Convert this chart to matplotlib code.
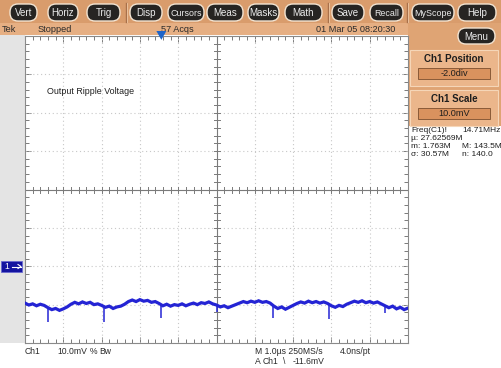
import numpy as np
import matplotlib
matplotlib.use("Agg")
import matplotlib.pyplot as plt
from matplotlib.patches import Rectangle, FancyBboxPatch, Polygon

plt.rcParams['font.family'] = ['Liberation Sans', 'DejaVu Sans']

# ---- acquisition data (Ch1, mV relative to ground, time in microseconds) ----
t_step = 0.1
trace_mv = [
    -9.6, -10.1, -9.8, -10.3, -9.9, -10.2, -10.8, -11.3, -11.0, -11.5,
    -11.1, -10.6, -9.9, -9.4, -9.8, -9.3, -9.7, -9.4, -10.0, -9.8,
    -10.2, -10.7, -10.4, -11.0, -10.6, -10.4, -9.9, -9.2, -8.8, -9.2,
    -8.7, -9.1, -8.9, -9.4, -9.2, -9.7, -10.3, -9.9, -10.4, -10.0,
    -10.2, -9.8, -10.3, -9.9, -9.6, -10.0, -9.5, -9.7, -9.3, -9.8,
    -10.1, -10.6, -10.3, -10.8, -10.4, -10.0, -9.6, -9.2, -9.5, -9.1,
    -9.4, -9.0, -9.4, -9.2, -9.6, -10.4, -11.0, -10.6, -11.2, -10.7,
    -10.2, -9.7, -9.3, -9.6, -9.1, -9.5, -9.2, -9.6, -9.3, -9.7,
    -10.3, -10.7, -10.2, -10.5, -9.9, -9.5, -9.1, -9.4, -9.0, -9.5,
    -9.2, -9.6, -9.3, -9.8, -10.3, -10.8, -10.4, -11.1, -10.7, -11.3,
    -10.9,
]
spike_t = [0.59, 2.05, 3.56, 5.01, 6.47, 7.95, 9.40]
spike_mv = [-14.4, -14.4, -13.5, -11.8, -13.5, -13.7, -12.2]
trigger_t = 3.56

# ---- display settings ----
volts_per_div = 10.0      # mV/div
position_div = -2.0       # ground position in divisions
n_xdiv, n_ydiv = 10, 8

button_labels = ["Vert", "Horiz", "Trig", "Disp", "Cursors", "Meas",
                 "Masks", "Math", "Save", "Recall", "MyScope", "Help"]
button_spans = [(10, 37), (48, 78), (87, 120), (130, 162), (168, 204), (207, 243),
                (248, 279), (285, 322), (332, 364), (370, 403), (412, 454), (458, 496)]
separators = [126, 328, 407]

W, H = 501, 368
fig = plt.figure(figsize=(W / 100, H / 100), dpi=100)
fig.patch.set_facecolor("white")

# background layer in pixel coordinates
bg = fig.add_axes([0, 0, 1, 1], zorder=0)
bg.set_xlim(0, W)
bg.set_ylim(H, 0)
bg.axis("off")

HEADER = "#d99c6c"
STATUS = "#e6af83"
PANEL = "#dfa474"
BOX = "#ebb68b"
FIELD = "#d9925e"

bg.add_patch(Rectangle((0, 0), W, 23, color=HEADER, lw=0))
bg.add_patch(Rectangle((0, 23), W, 12, color=STATUS, lw=0))
bg.add_patch(Rectangle((408, 23), W - 408, 103, color=PANEL, lw=0))
bg.add_patch(Rectangle((0, 35), 25, 308, color="#e4e4e4", lw=0))

def button(x0, x1, y0, y1, label, size=6.9):
    bg.add_patch(FancyBboxPatch((x0, y0), x1 - x0, y1 - y0,
                                boxstyle="round,pad=0,rounding_size=8",
                                fc="#262422", ec="#f3e4d2", lw=1.0))
    bg.text((x0 + x1) / 2, (y0 + y1) / 2 + 0.5, label, color="#ececec",
            fontsize=size, ha="center", va="center")

for lab, (x0, x1) in zip(button_labels, button_spans):
    button(x0, x1, 4, 21, lab, size=6.4 if len(lab) > 5 else 7.0)
for sx in separators:
    bg.plot([sx, sx], [3, 22], color="#a8704a", lw=1.0)
    bg.plot([sx + 1, sx + 1], [3, 22], color="#f0c8a4", lw=0.6)

# status line
for x, s in [(2, "Tek"), (38, "Stopped"), (161, "57 Acqs"), (316, "01 Mar 05 08:20:30")]:
    bg.text(x, 29.5, s, fontsize=6.6, color="#2a2a2a", va="center", ha="left")

button(458, 495, 28, 44, "Menu")

# channel setting boxes
for y0, title, value in [(50, "Ch1 Position", "-2.0div"), (90, "Ch1 Scale", "10.0mV")]:
    bg.add_patch(Rectangle((410, y0), 88, 36, fc=BOX, ec="#f5d6b8", lw=0.8))
    bg.text(454, y0 + 9, title, fontsize=7.0, fontweight="bold", color="#1e1e1e",
            ha="center", va="center")
    bg.add_patch(Rectangle((418, y0 + 18), 72, 11, fc=FIELD, ec="#8a5a38", lw=0.7))
    bg.text(454, y0 + 24, value, fontsize=6.6, color="#1e1e1e", ha="center",
            va="center")

# measurement readout
meas = [(411, 131, "Freq(C1)!"), (462, 131, "14.71MHz"),
        (411, 139, "\u00b5: 27.62569M"),
        (411, 147, "m: 1.763M"), (462, 147, "M: 143.5M"),
        (411, 155, "\u03c3: 30.57M"), (462, 155, "n: 140.0")]
for x, y, s in meas:
    bg.text(x, y, s, fontsize=6.0, color="#1e1e1e", ha="left", va="center")

# ground reference marker
bg.add_patch(Rectangle((1, 261), 21, 11, fc="#1414a0", ec="#6a6ad0", lw=0.6))
bg.text(7, 266.5, "1", fontsize=6.2, color="white", ha="center", va="center")
bg.plot([12, 21], [266.5, 266.5], color="white", lw=0.8)
bg.plot([18, 21, 18], [264.5, 266.5, 268.5], color="white", lw=0.8)

# bottom status text
bot = [(25, 352, "Ch1"), (57, 352, "10.0mV"), (90, 352, "%"), (99, 352, "Bw"),
       (255, 352, "M 1.0\u00b5s 250MS/s"), (340, 352, "4.0ns/pt"),
       (255, 362, "A"), (263, 362, "Ch1"), (283, 362, "\\"), (293, 362, "-11.6mV")]
for x, y, s in bot:
    bg.text(x, y, s, fontsize=6.2, color="#2a2a2a", ha="left", va="center")

# ---- graticule ----
ax = fig.add_axes([25 / W, (H - 343) / H, 383 / W, 307 / H], zorder=1)
ax.set_facecolor("white")
ymin = (-n_ydiv / 2 - position_div) * volts_per_div
ymax = (n_ydiv / 2 - position_div) * volts_per_div
ax.set_xlim(0, n_xdiv)
ax.set_ylim(ymin, ymax)
ycenter = (ymin + ymax) / 2
xcenter = n_xdiv / 2

ax.set_xticks(np.arange(0, n_xdiv + 0.01, 1))
ax.set_xticks(np.arange(0, n_xdiv + 0.01, 0.2), minor=True)
ax.set_yticks(np.arange(ymin, ymax + 0.01, volts_per_div))
ax.set_yticks(np.arange(ymin, ymax + 0.01, volts_per_div / 5), minor=True)
ax.tick_params(which="both", direction="in", top=True, right=True,
               labelbottom=False, labelleft=False, color="#7a7a7a", width=0.7)
ax.tick_params(which="major", length=4)
ax.tick_params(which="minor", length=3)
for sp in ax.spines.values():
    sp.set_color("#8a8a8a")
    sp.set_linewidth(0.8)

for gx in np.arange(1, n_xdiv, 1):
    if gx != xcenter:
        ax.axvline(gx, color="#c8c8c8", lw=0.8, ls=(0, (1, 2.5)))
for gy in np.arange(ymin + volts_per_div, ymax, volts_per_div):
    if gy != ycenter:
        ax.axhline(gy, color="#c8c8c8", lw=0.8, ls=(0, (1, 2.5)))

# center cross with fine ticks
ax.axvline(xcenter, color="#7a7a7a", lw=0.8)
ax.axhline(ycenter, color="#7a7a7a", lw=0.8)
dx_tick = 3 * n_xdiv / 383
dy_tick = 3 * (ymax - ymin) / 307
for tx in np.arange(0, n_xdiv + 0.01, 0.2):
    ax.plot([tx, tx], [ycenter - dy_tick, ycenter + dy_tick], color="#7a7a7a", lw=0.7)
for ty in np.arange(ymin, ymax + 0.01, volts_per_div / 5):
    ax.plot([xcenter - dx_tick, xcenter + dx_tick], [ty, ty], color="#7a7a7a", lw=0.7)

ax.text(0.57, 45.5, "Output Ripple Voltage", fontsize=6.4,
        color="#1e1e1e", ha="left", va="center")

# trigger position marker
tri = Polygon([[trigger_t - 0.13, ymax + 1.3], [trigger_t + 0.13, ymax + 1.3],
               [trigger_t, ymax - 1.0]], closed=True, fc="#1e64c8", ec="none",
              clip_on=False, zorder=5)
ax.add_patch(tri)

# ---- waveform ----
t = np.arange(len(trace_mv)) * t_step
ax.plot(t, trace_mv, color="#2424d4", lw=2.3, solid_joinstyle="miter", zorder=4)
base_at_spike = np.interp(spike_t, t, trace_mv)
ax.vlines(spike_t, base_at_spike, spike_mv, color="#2424d4", lw=1.1, zorder=4)

fig.savefig("out.png", dpi=100)
